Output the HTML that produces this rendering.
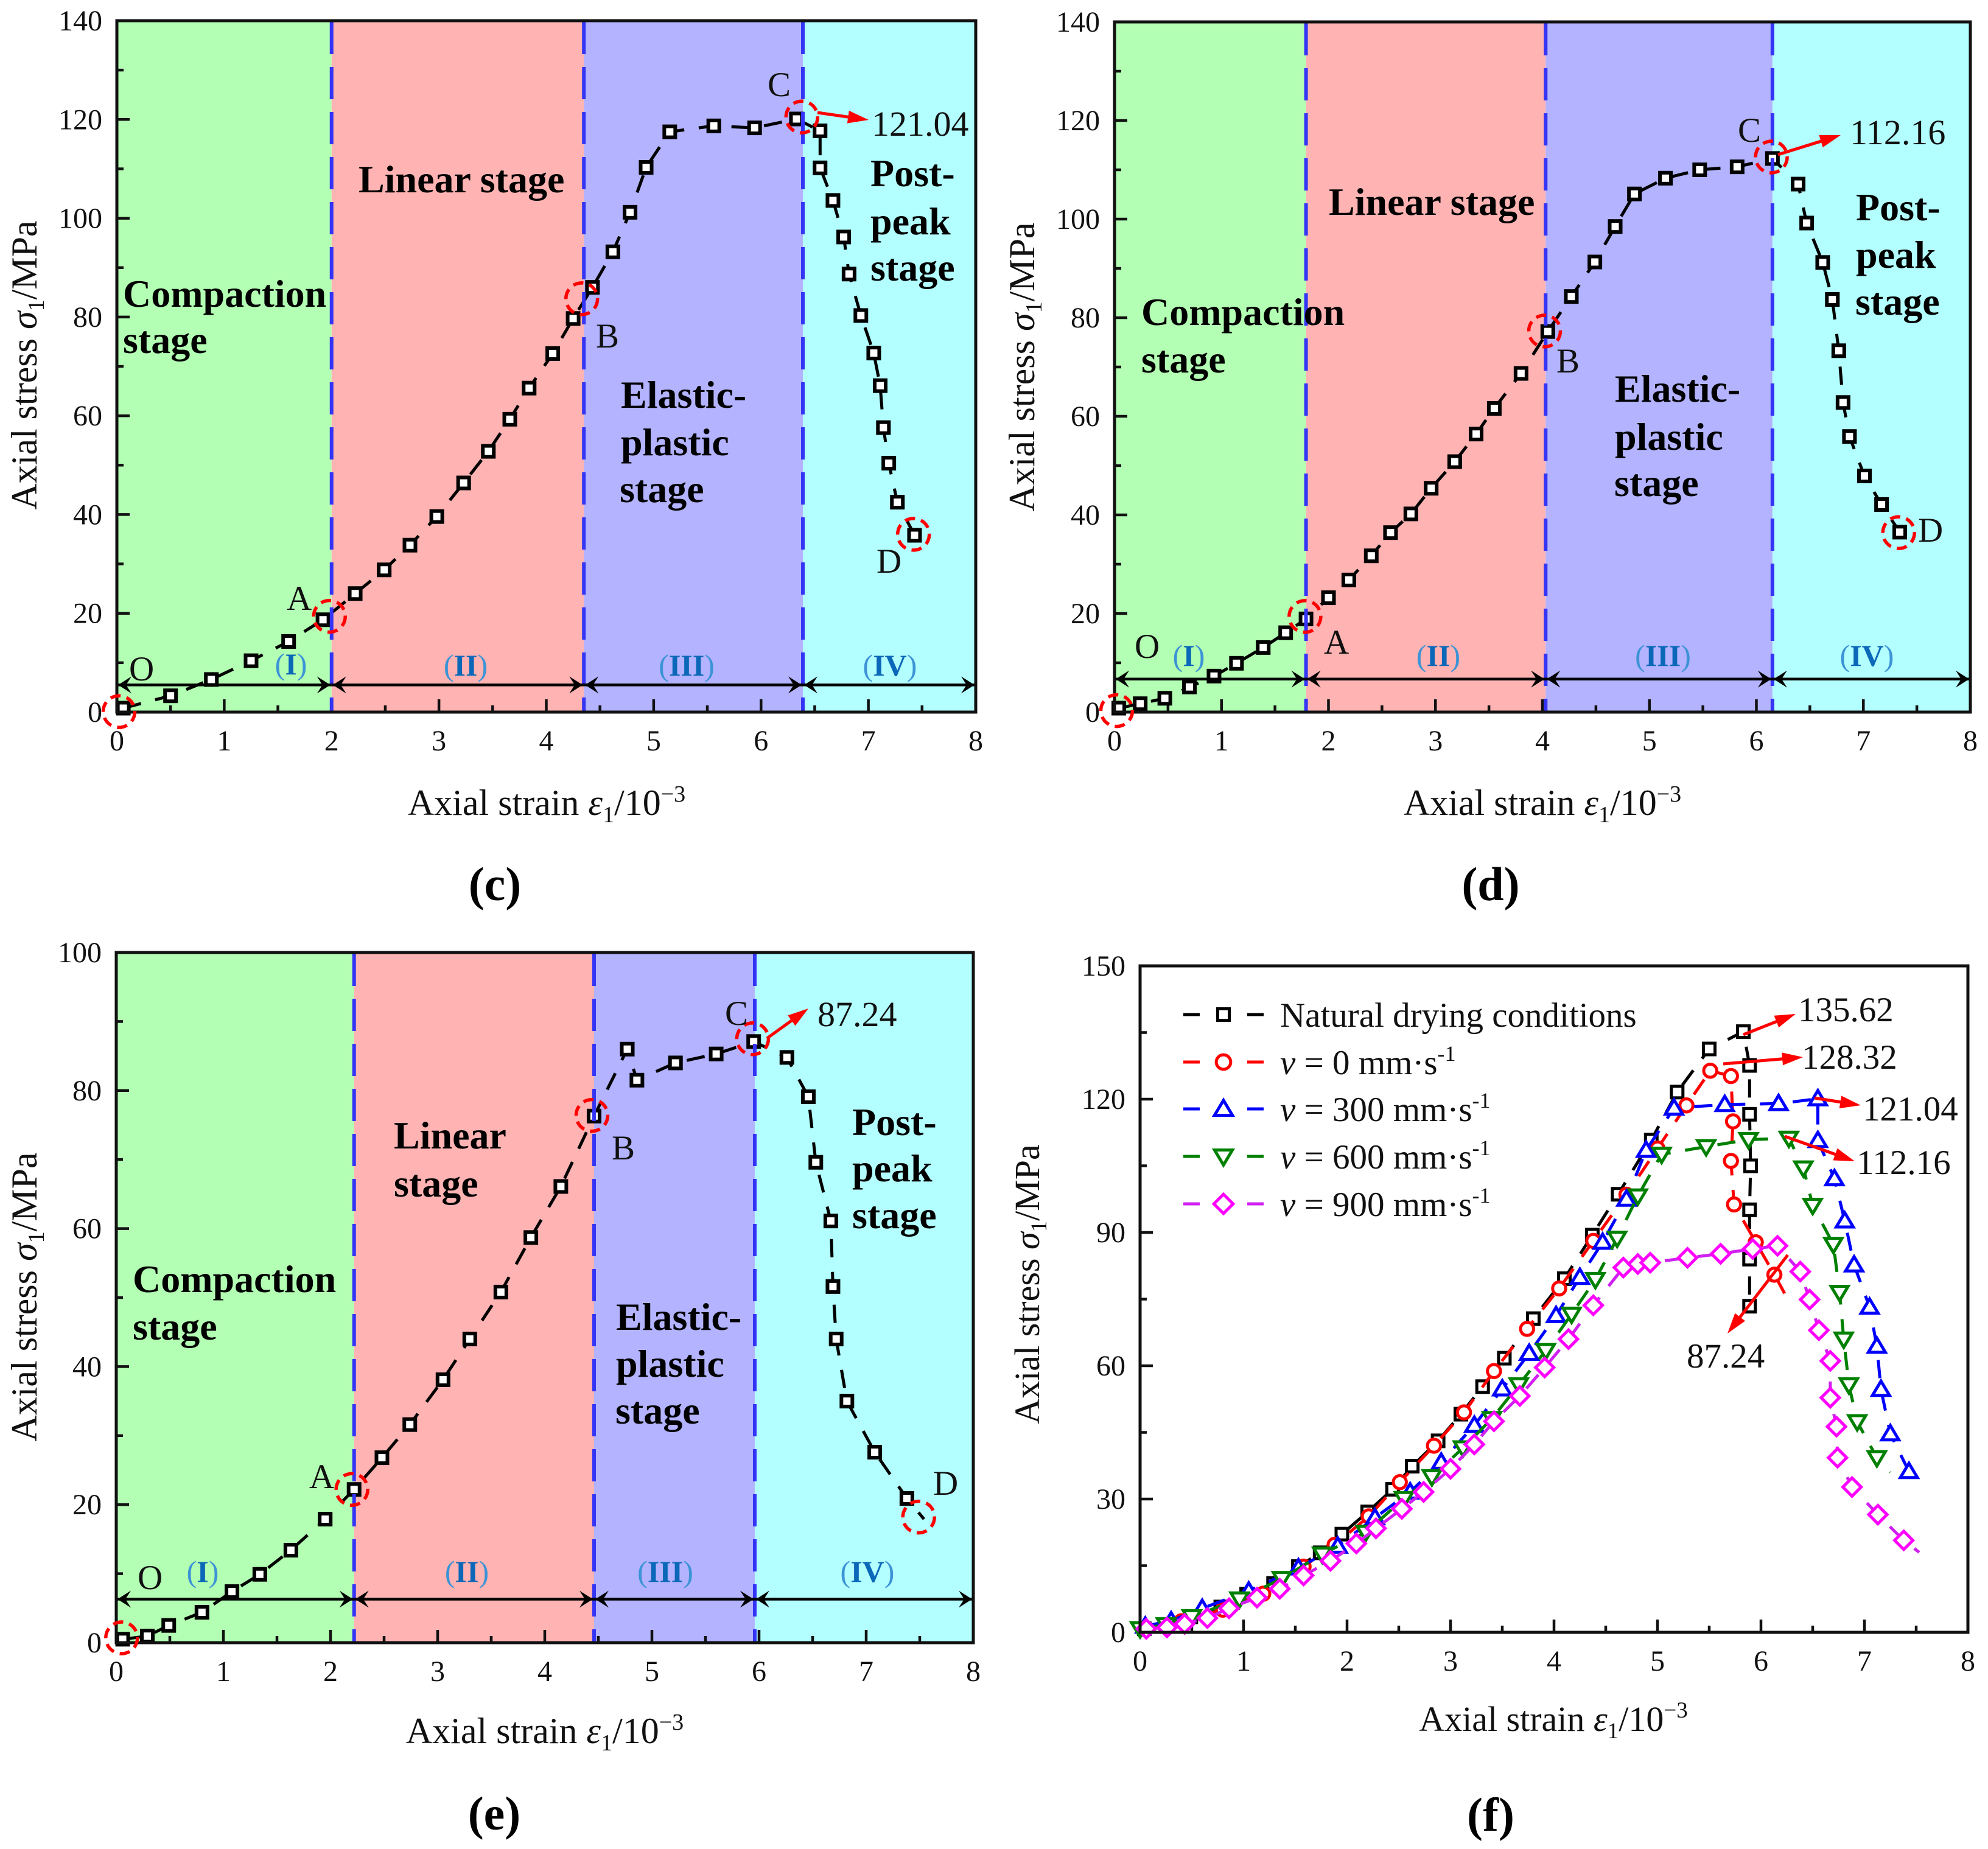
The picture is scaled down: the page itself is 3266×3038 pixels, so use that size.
<!DOCTYPE html>
<html lang="en">
<head>
<meta charset="utf-8">
<title>Axial stress-strain curves, panels c to f</title>
<style>
html,body{margin:0;padding:0;background:#fff;width:3266px;height:3038px;overflow:hidden}
svg{display:block;font-family:"Liberation Serif","Times New Roman",serif;fill:#111}
.b{font-weight:bold;font-size:64px;fill:#000}
.t{font-size:57px}
.tt{font-size:60px}
.tf{font-size:58px}
.l{font-size:57px}
.v{font-size:58px}
.vf{font-size:57px}
.cap{font-weight:bold;font-size:78px;text-anchor:middle;fill:#000}
.i{font-style:italic}
.rom{font-size:50px;text-anchor:middle;fill:#3c93d6}
.rom .m{font-weight:bold;fill:#0b67b8}
.m57{text-anchor:middle}
</style>
</head>
<body>
<svg id="figure" xmlns="http://www.w3.org/2000/svg" width="3266" height="3038" viewBox="0 0 3266 3038">
<g id="layer-marks"></g>
<g id="layer-text">
<!-- Panel c -->
<g>
<text class="b" x="202" y="504">Compaction</text>
<text class="b" x="202" y="580">stage</text>
<text class="b" x="589" y="316">Linear stage</text>
<text class="b" x="1020" y="670">Elastic-</text>
<text class="b" x="1020" y="748">plastic</text>
<text class="b" x="1018" y="825">stage</text>
<text class="b" x="1430" y="306">Post-</text>
<text class="b" x="1430" y="385">peak</text>
<text class="b" x="1430" y="461">stage</text>
<text class="l" x="212" y="1118">O</text>
<text class="l" x="471" y="1002">A</text>
<text class="l" x="979" y="571">B</text>
<text class="l" x="1261" y="158">C</text>
<text class="l" x="1440" y="941">D</text>
<text class="v" x="1432" y="223">121.04</text>
<text class="rom" x="478" y="1108">(<tspan class="m">I</tspan>)</text>
<text class="rom" x="765" y="1110">(<tspan class="m">II</tspan>)</text>
<text class="rom" x="1128" y="1110">(<tspan class="m">III</tspan>)</text>
<text class="rom" x="1462" y="1110">(<tspan class="m">IV</tspan>)</text>
<text class="tt m57" x="898" y="1339">Axial strain <tspan class="i">ε</tspan><tspan font-size="38" dy="12">1</tspan><tspan dy="-12">/10</tspan><tspan font-size="38" dy="-22">−3</tspan></text>
<text class="tt m57" transform="translate(60,600) rotate(-90)">Axial stress <tspan class="i">σ</tspan><tspan font-size="38" dy="12">1</tspan><tspan dy="-12">/MPa</tspan></text>
<text class="cap" x="813" y="1479">(c)</text>
</g>
<!-- Panel d -->
<g>
<text class="b" x="1875" y="534">Compaction</text>
<text class="b" x="1875" y="612">stage</text>
<text class="b" x="2183" y="353">Linear stage</text>
<text class="b" x="2653" y="660">Elastic-</text>
<text class="b" x="2653" y="739">plastic</text>
<text class="b" x="2652" y="815">stage</text>
<text class="b" x="3049" y="362">Post-</text>
<text class="b" x="3049" y="440">peak</text>
<text class="b" x="3048" y="517">stage</text>
<text class="l" x="1864" y="1081">O</text>
<text class="l" x="2175" y="1074">A</text>
<text class="l" x="2557" y="612">B</text>
<text class="l" x="2855" y="233">C</text>
<text class="l" x="3151" y="890">D</text>
<text class="v" x="3039" y="237">112.16</text>
<text class="rom" x="1953" y="1094">(<tspan class="m">I</tspan>)</text>
<text class="rom" x="2363" y="1094">(<tspan class="m">II</tspan>)</text>
<text class="rom" x="2732" y="1094">(<tspan class="m">III</tspan>)</text>
<text class="rom" x="3067" y="1094">(<tspan class="m">IV</tspan>)</text>
<text class="tt m57" x="2534" y="1339">Axial strain <tspan class="i">ε</tspan><tspan font-size="38" dy="12">1</tspan><tspan dy="-12">/10</tspan><tspan font-size="38" dy="-22">−3</tspan></text>
<text class="tt m57" transform="translate(1699,603) rotate(-90)">Axial stress <tspan class="i">σ</tspan><tspan font-size="38" dy="12">1</tspan><tspan dy="-12">/MPa</tspan></text>
<text class="cap" x="2449" y="1479">(d)</text>
</g>
<!-- Panel e -->
<g>
<text class="b" x="218" y="2123">Compaction</text>
<text class="b" x="218" y="2201">stage</text>
<text class="b" x="647" y="1887">Linear</text>
<text class="b" x="647" y="1966">stage</text>
<text class="b" x="1012" y="2185">Elastic-</text>
<text class="b" x="1012" y="2262">plastic</text>
<text class="b" x="1011" y="2339">stage</text>
<text class="b" x="1400" y="1865">Post-</text>
<text class="b" x="1400" y="1941">peak</text>
<text class="b" x="1400" y="2018">stage</text>
<text class="l" x="226" y="2611">O</text>
<text class="l" x="508" y="2445">A</text>
<text class="l" x="1005" y="1905">B</text>
<text class="l" x="1191" y="1684">C</text>
<text class="l" x="1533" y="2456">D</text>
<text class="v" x="1343" y="1686">87.24</text>
<text class="rom" x="333" y="2599">(<tspan class="m">I</tspan>)</text>
<text class="rom" x="767" y="2599">(<tspan class="m">II</tspan>)</text>
<text class="rom" x="1093" y="2599">(<tspan class="m">III</tspan>)</text>
<text class="rom" x="1425" y="2599">(<tspan class="m">IV</tspan>)</text>
<text class="tt m57" x="895" y="2864">Axial strain <tspan class="i">ε</tspan><tspan font-size="38" dy="12">1</tspan><tspan dy="-12">/10</tspan><tspan font-size="38" dy="-22">−3</tspan></text>
<text class="tt m57" transform="translate(60,2131) rotate(-90)">Axial stress <tspan class="i">σ</tspan><tspan font-size="38" dy="12">1</tspan><tspan dy="-12">/MPa</tspan></text>
<text class="cap" x="812" y="3006">(e)</text>
</g>
<!-- Panel f -->
<g>
<text class="vf" x="2954" y="1678">135.62</text>
<text class="vf" x="2960" y="1756">128.32</text>
<text class="vf" x="3060" y="1841">121.04</text>
<text class="vf" x="3050" y="1929">112.16</text>
<text class="vf" x="2771" y="2247">87.24</text>
<text class="t" x="2103" y="1687">Natural drying conditions</text>
<text class="t" x="2103" y="1765"><tspan class="i">v</tspan> = 0 mm·s<tspan font-size="36" dy="-22">-1</tspan></text>
<text class="t" x="2103" y="1842"><tspan class="i">v</tspan> = 300 mm·s<tspan font-size="36" dy="-22">-1</tspan></text>
<text class="t" x="2103" y="1920"><tspan class="i">v</tspan> = 600 mm·s<tspan font-size="36" dy="-22">-1</tspan></text>
<text class="t" x="2103" y="1998"><tspan class="i">v</tspan> = 900 mm·s<tspan font-size="36" dy="-22">-1</tspan></text>
<text class="tf m57" x="2552" y="2844">Axial strain <tspan class="i">ε</tspan><tspan font-size="37" dy="12">1</tspan><tspan dy="-12">/10</tspan><tspan font-size="37" dy="-22">−3</tspan></text>
<text class="tf m57" transform="translate(1707,2110) rotate(-90)">Axial stress <tspan class="i">σ</tspan><tspan font-size="37" dy="12">1</tspan><tspan dy="-12">/MPa</tspan></text>
<text class="cap" x="2449" y="3008">(f)</text>
</g>
</g>
</svg>
<script>
// ---------- shared tick labels ----------
const xTickLabels = [0,1,2,3,4,5,6,7,8];
const yTickLabelsCD = [0,20,40,60,80,100,120,140];
const yTickLabelsE = [0,20,40,60,80,100];
const yTickLabelsF = [0,30,60,90,120,150];

// ---------- panel c ----------
const cStrain = [0.06,0.50,0.88,1.25,1.60,1.92,2.22,2.49,2.73,2.98,3.23,3.46,3.66,3.84,4.06,4.25,4.43,4.62,4.78,4.93,5.15,5.56,5.94,6.33,6.55,6.55,6.67,6.77,6.82,6.93,7.05,7.11,7.14,7.19,7.27,7.43];
const cStress = [0.8,3.3,6.6,10.4,14.3,18.7,24.0,28.8,33.8,39.6,46.4,52.8,59.3,65.6,72.6,79.7,86.0,93.2,101.2,110.3,117.5,118.7,118.3,120.1,117.7,110.2,103.6,96.2,88.7,80.3,72.7,66.1,57.6,50.4,42.5,35.8];
const cBoundaries = [2.0,4.35,6.39];
const cKeyStrain = [0.02,1.98,4.33,6.38,7.42];
const cKeyStress = [0.1,19.4,83.7,120.5,36.0];

// ---------- panel d ----------
const dStrain = [0.04,0.24,0.47,0.70,0.93,1.14,1.39,1.60,1.79,2.00,2.19,2.40,2.58,2.77,2.96,3.18,3.38,3.55,3.80,4.05,4.27,4.49,4.68,4.86,5.15,5.47,5.82,6.15,6.39,6.47,6.62,6.71,6.77,6.81,6.87,7.01,7.17,7.34];
const dStress = [0.8,1.7,2.8,5.1,7.3,9.9,13.1,16.1,18.9,23.2,26.8,31.7,36.4,40.2,45.4,50.8,56.4,61.6,68.7,77.2,84.3,91.3,98.5,105.1,108.3,110.0,110.6,112.3,107.1,99.2,91.2,83.7,73.3,62.8,55.9,47.9,42.1,36.5];
const dBoundaries = [1.79,4.03,6.15];
const dKeyStrain = [0.02,1.78,4.02,6.14,7.33];
const dKeyStress = [0.3,19.4,77.3,112.6,36.4];

// ---------- panel e ----------
const eStrain = [0.06,0.29,0.49,0.80,1.08,1.34,1.63,1.95,2.22,2.48,2.74,3.05,3.30,3.59,3.87,4.15,4.46,4.77,4.86,5.22,5.60,5.95,6.26,6.46,6.53,6.67,6.69,6.72,6.82,7.08,7.38,7.54];
const eStress = [0.5,0.95,2.5,4.4,7.4,9.9,13.4,17.9,22.2,26.8,31.6,38.1,44.0,50.8,58.7,66.1,76.3,86.0,81.5,84.0,85.3,87.1,84.8,79.1,69.6,61.1,51.6,44.0,35.0,27.6,20.9,17.9];
const eBoundaries = [2.22,4.46,5.96];
const eKeyStrain = [0.05,2.20,4.44,5.94,7.49];
const eKeyStress = [0.7,22.2,76.4,87.5,18.2];

// ---------- panel f ----------
const naturalStrain = [0.04,0.25,0.49,0.78,1.03,1.29,1.53,1.74,1.95,2.20,2.44,2.63,2.88,3.10,3.31,3.52,3.80,4.10,4.37,4.62,4.94,5.19,5.50,5.83,5.89,5.89,5.90,5.89,5.89,5.89];
const naturalStress = [0.8,1.6,3.5,5.7,8.6,11.0,14.8,17.9,22.1,27.1,32.2,37.4,43.1,49.1,55.3,61.7,70.6,79.6,89.4,98.6,110.8,121.6,131.3,135.2,127.6,116.6,105.0,95.1,84.0,73.4];
const v0Strain = [0.04,0.40,0.80,1.19,1.58,1.88,2.21,2.51,2.84,3.13,3.42,3.74,4.05,4.38,4.70,5.00,5.28,5.51,5.71,5.73,5.71,5.74,5.95,6.13,6.27];
const v0Stress = [0.8,2.5,5.1,8.7,14.8,19.7,26.1,33.8,42.0,49.5,58.8,68.3,77.4,88.1,98.5,108.9,118.6,126.4,125.2,115.0,106.1,96.3,87.8,80.5,74.5];
const v300Strain = [0.05,0.30,0.60,1.05,1.53,1.91,2.27,2.61,2.91,3.23,3.50,3.76,4.02,4.25,4.47,4.70,4.89,5.16,5.65,6.17,6.55,6.55,6.71,6.81,6.90,7.05,7.12,7.16,7.25,7.43];
const v300Stress = [1.4,2.6,5.4,9.3,14.5,19.4,25.8,31.6,38.3,46.6,54.8,62.8,71.3,79.9,87.8,97.5,108.5,118.0,118.8,119.0,120.1,110.7,102.1,92.6,82.7,73.2,64.4,54.7,44.7,36.2];
const v600Strain = [0.00,0.25,0.50,0.96,1.37,1.76,2.18,2.55,2.82,3.12,3.40,3.66,3.92,4.17,4.40,4.61,4.81,5.04,5.47,5.88,6.27,6.41,6.50,6.70,6.76,6.80,6.85,6.93,7.12,7.25];
const v600Stress = [0.8,1.7,3.5,7.5,12.1,17.6,22.5,30.1,35.0,41.5,48.1,55.7,63.4,71.6,79.4,88.7,98.2,107.6,109.3,110.9,111.2,104.5,96.1,87.3,76.5,66.0,55.7,47.4,39.3,36.0];
const v900Strain = [0.06,0.26,0.43,0.65,0.86,1.13,1.35,1.58,1.84,2.09,2.28,2.53,2.74,3.00,3.23,3.42,3.67,3.91,4.14,4.38,4.67,4.81,4.93,5.29,5.61,5.92,6.16,6.38,6.47,6.56,6.67,6.67,6.73,6.74,6.88,7.13,7.38,7.53];
const v900Stress = [0.8,1.1,1.9,3.2,5.4,7.8,9.8,12.8,16.1,20.0,23.4,27.8,31.6,36.8,42.3,47.5,53.2,59.6,66.0,73.6,82.1,82.9,83.2,84.3,85.2,86.3,87.0,81.2,74.9,68.0,61.1,52.8,46.3,39.3,32.7,26.5,20.7,18.0];

// ---------- drawing helpers ----------
const NS = 'http://www.w3.org/2000/svg';
const root = document.getElementById('layer-marks');
function mk(tag, attrs, parent) {
  const el = document.createElementNS(NS, tag);
  for (const k in attrs) el.setAttribute(k, attrs[k]);
  (parent || root).appendChild(el);
  return el;
}
function makeAxes(f) {
  return {
    x: v => f.left + (v / 8) * (f.right - f.left),
    y: v => f.bottom - (v / f.yMax) * (f.bottom - f.top)
  };
}
function drawMarker(g, shape, cx, cy, color, s, sw) {
  let el;
  if (shape === 'square') {
    el = mk('rect', {x: cx - s, y: cy - s, width: 2 * s, height: 2 * s, fill: '#fff', stroke: color, 'stroke-width': sw}, g);
  } else if (shape === 'circle') {
    el = mk('circle', {cx: cx, cy: cy, r: s * 1.13, fill: '#fff', stroke: color, 'stroke-width': sw}, g);
  } else if (shape === 'up') {
    el = mk('polygon', {points: [cx, cy - s * 1.35, cx + s * 1.4, cy + s * 1.0, cx - s * 1.4, cy + s * 1.0].join(','), fill: '#fff', stroke: color, 'stroke-width': sw}, g);
  } else if (shape === 'down') {
    el = mk('polygon', {points: [cx, cy + s * 1.35, cx + s * 1.4, cy - s * 1.0, cx - s * 1.4, cy - s * 1.0].join(','), fill: '#fff', stroke: color, 'stroke-width': sw}, g);
  } else {
    el = mk('polygon', {points: [cx, cy - s * 1.5, cx + s * 1.5, cy, cx, cy + s * 1.5, cx - s * 1.5, cy].join(','), fill: '#fff', stroke: color, 'stroke-width': sw}, g);
  }
  return el;
}
function drawSeries(g, ax, xs, ys, lineColor, markColor, shape, tailOnly, seriesName, size, sw) {
  const pts = xs.map((v, i) => ax.x(v).toFixed(1) + ',' + ax.y(ys[i]).toFixed(1)).join(' ');
  const line = mk('polyline', {points: pts, fill: 'none', stroke: lineColor, 'stroke-width': 5, 'stroke-dasharray': '30 24'}, g);
  
  
  const n = xs.length - tailOnly;
  for (let i = 0; i < n; i++) {
    const m = drawMarker(g, shape, ax.x(xs[i]), ax.y(ys[i]), markColor, size, sw);
    
    
  }
}
function drawTicks(g, f, ax, yLabels, yMinorStep) {
  for (let t = 0; t <= 8; t += 0.5) {
    if (t === 0 || t === 8) continue;
    const major = Number.isInteger(t);
    const tick = mk('line', {x1: ax.x(t), x2: ax.x(t), y1: f.bottom, y2: f.bottom - (major ? 21 : 11), stroke: '#111', 'stroke-width': 4.5}, g);
    
    
  }
  for (let t = yMinorStep; t < f.yMax; t += yMinorStep) {
    const major = Math.round(t / yMinorStep) % 2 === 0;
    const tick = mk('line', {x1: f.left, x2: f.left + (major ? 21 : 11), y1: ax.y(t), y2: ax.y(t), stroke: '#111', 'stroke-width': 4.5}, g);
    
    
  }
  xTickLabels.forEach(v => {
    const lab = mk('text', {x: ax.x(v), y: f.bottom + 63, 'font-size': 48, 'text-anchor': 'middle'}, g);
    lab.textContent = v;
    
    
  });
  yLabels.forEach(v => {
    const lab = mk('text', {x: f.left - 24, y: ax.y(v) + 16, 'font-size': 48, 'text-anchor': 'end'}, g);
    lab.textContent = v;
    
    
  });
}
function drawFrame(g, f) {
  const frame = mk('rect', {x: f.left, y: f.top, width: f.right - f.left, height: f.bottom - f.top, fill: 'none', stroke: '#111', 'stroke-width': 5}, g);
  
  
}
function arrowHead(g, tipX, tipY, ux, uy, L, W, notch, color) {
  const px = -uy, py = ux;
  const p = [tipX, tipY,
    tipX - ux * L + px * W, tipY - uy * L + py * W,
    tipX - ux * notch, tipY - uy * notch,
    tipX - ux * L - px * W, tipY - uy * L - py * W];
  return mk('polygon', {points: p.join(','), fill: color}, g);
}
function doubleArrow(g, x1, x2, y) {
  const ln = mk('line', {x1: x1, x2: x2, y1: y, y2: y, stroke: '#000', 'stroke-width': 4.5}, g);
  
  
  const a = arrowHead(g, x2 - 2, y, 1, 0, 22, 14, 13, '#000');
  
  
  const b = arrowHead(g, x1 + 2, y, -1, 0, 22, 14, 13, '#000');
  
  
}
function redArrow(g, x1, y1, x2, y2) {
  const d = Math.hypot(x2 - x1, y2 - y1), ux = (x2 - x1) / d, uy = (y2 - y1) / d;
  const ln = mk('line', {x1: x1, y1: y1, x2: x2 - ux * 20, y2: y2 - uy * 20, stroke: '#ff0000', 'stroke-width': 5}, g);
  
  
  const h = arrowHead(g, x2, y2, ux, uy, 34, 10.5, 34, '#ff0000');
  
  
}
const stageFills = ['#b3ffb3', '#ffb3b3', '#b3b3ff', '#b3ffff'];
const stageNames = ['compaction-stage-band', 'linear-stage-band', 'elastic-plastic-stage-band', 'post-peak-stage-band'];
function drawStagePanel(f, xs, ys, bounds, keyX, keyY, yLabels, tail, arrow) {
  const ax = makeAxes(f);
  const g = mk('g', {});
  
  
  const edges = [0].concat(bounds, [8]);
  for (let i = 0; i < 4; i++) {
    const band = mk('rect', {x: ax.x(edges[i]), y: f.top, width: ax.x(edges[i + 1]) - ax.x(edges[i]), height: f.bottom - f.top, fill: stageFills[i]}, g);
    
    
  }
  drawTicks(g, f, ax, yLabels, 10);
  drawSeries(g, ax, xs, ys, '#000', '#000', 'square', tail, 'stress-strain', 9, 6);
  bounds.forEach(b => {
    const v = mk('line', {x1: ax.x(b), x2: ax.x(b), y1: f.top + 2, y2: f.bottom + 2, stroke: '#3434f6', 'stroke-width': 6, 'stroke-dasharray': '53 21'}, g);
    
    
  });
  for (let i = 0; i < 4; i++) {
    doubleArrow(g, ax.x(edges[i]), ax.x(edges[i + 1]), ax.y(f.arrowValue));
  }
  redArrow(g, arrow[0], arrow[1], arrow[2], arrow[3]);
  drawFrame(g, f);
  keyX.forEach((v, i) => {
    const c = mk('circle', {cx: ax.x(v), cy: ax.y(keyY[i]), r: 26, fill: 'none', stroke: '#ff0000', 'stroke-width': 5.5, 'stroke-dasharray': '17 10'}, g);
    
    
  });
}

drawStagePanel({name: 'panel-c', left: 192, right: 1603, top: 34, bottom: 1170, yMax: 140, arrowValue: 5.5}, cStrain, cStress, cBoundaries, cKeyStrain, cKeyStress, yTickLabelsCD, 0, [1343, 185, 1427, 197]);
drawStagePanel({name: 'panel-d', left: 1831, right: 3237, top: 36, bottom: 1170, yMax: 140, arrowValue: 6.7}, dStrain, dStress, dBoundaries, dKeyStrain, dKeyStress, yTickLabelsCD, 0, [2921, 254, 3024, 222]);
drawStagePanel({name: 'panel-e', left: 191, right: 1599, top: 1565, bottom: 2699, yMax: 100, arrowValue: 6.3}, eStrain, eStress, eBoundaries, eKeyStrain, eKeyStress, yTickLabelsE, 1, [1260, 1706, 1328, 1657]);

// panel f
(function () {
  const f = {left: 1873, right: 3233, top: 1587, bottom: 2682, yMax: 150};
  const ax = makeAxes(f);
  const g = mk('g', {});
  
  
  drawTicks(g, f, ax, yTickLabelsF, 15);
  drawSeries(g, ax, naturalStrain, naturalStress, '#000', '#000', 'square', 0, 'natural-drying', 9.5, 5);
  drawSeries(g, ax, v0Strain, v0Stress, '#ff0000', '#ff0000', 'circle', 1, 'v-0', 9.5, 5);
  drawSeries(g, ax, v300Strain, v300Stress, '#0000ff', '#0000ff', 'up', 0, 'v-300', 10, 5);
  drawSeries(g, ax, v600Strain, v600Stress, '#008000', '#008000', 'down', 1, 'v-600', 10, 5);
  drawSeries(g, ax, v900Strain, v900Stress, '#d020f0', '#ff00ff', 'diamond', 1, 'v-900', 10, 5);
  redArrow(g, 2864, 1700, 2950, 1666);
  redArrow(g, 2831, 1748, 2962, 1737);
  redArrow(g, 2981, 1804, 3057, 1816);
  redArrow(g, 2932, 1867, 3047, 1908);
  redArrow(g, 2937, 2062, 2838, 2191);
  drawFrame(g, f);
  const legendRows = [
    ['#000', '#000', 'square', 1667, 'natural'],
    ['#ff0000', '#ff0000', 'circle', 1745, 'v-0'],
    ['#0000ff', '#0000ff', 'up', 1822, 'v-300'],
    ['#008000', '#008000', 'down', 1900, 'v-600'],
    ['#d020f0', '#ff00ff', 'diamond', 1978, 'v-900']
  ];
  legendRows.forEach(r => {
    const a = mk('line', {x1: 1944, x2: 1971, y1: r[3], y2: r[3], stroke: r[0], 'stroke-width': 5}, g);
    
    
    const b = mk('line', {x1: 2049, x2: 2076, y1: r[3], y2: r[3], stroke: r[0], 'stroke-width': 5}, g);
    
    
    const m = drawMarker(g, r[2], 2010, r[3], r[1], r[2] === 'square' ? 9.5 : 10.5, 5);
    
    
  });
})();
</script>
</body>
</html>
